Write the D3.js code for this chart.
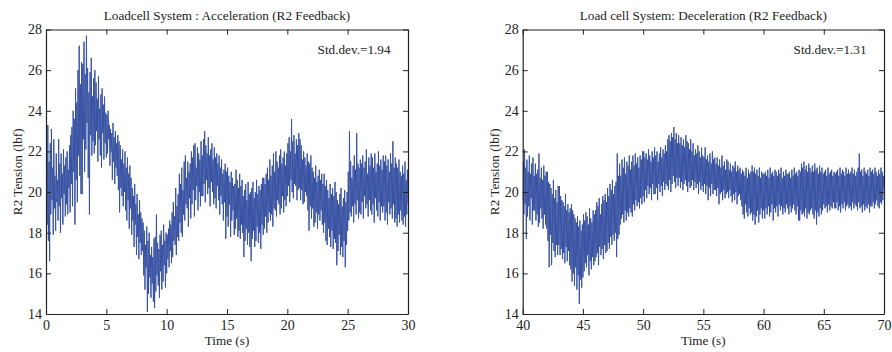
<!DOCTYPE html>
<html>
<head>
<meta charset="utf-8">
<script src="https://cdn.jsdelivr.net/npm/d3@7/dist/d3.min.js"></script>
<style>
  html, body { margin: 0; padding: 0; background: #fff; }
  svg { display: block; }
  text { font-family: "Liberation Serif", "Times New Roman", Times, serif; fill: #222; }
</style>
</head>
<body>
<svg id="chart" width="892" height="352"></svg>
<script>
// Load-cell tension, R2 feedback, sampled every 0.05 s
const sampleStep = 0.05;

const accTitle = "Loadcell System : Acceleration (R2 Feedback)";
const accStart = 0;
const accStd = "Std.dev.=1.94";
// one row per second
const accTension = [
  19.8, 22.9, 18.4, 23.3, 17.6, 21.5, 16.6, 22.4, 18.9, 23.1, 19.6, 21.2, 17.9, 22.6, 19.2, 20.8, 18.1, 21.9, 19.5, 20.6,
  18.6, 22.6, 19.3, 21.4, 18.0, 21.9, 19.7, 20.9, 18.4, 22.1, 19.9, 21.3, 18.8, 21.7, 19.4, 22.0, 18.9, 21.1, 20.2, 22.3,
  19.0, 22.8, 20.4, 23.2, 19.3, 24.0, 21.0, 23.6, 18.4, 25.1, 20.6, 24.4, 19.5, 26.0, 21.8, 27.2, 20.8, 25.3, 19.9, 26.4,
  19.9, 26.3, 22.6, 27.4, 21.0, 25.8, 22.1, 27.7, 23.4, 26.1, 20.7, 24.9, 18.9, 25.9, 22.8, 26.6, 21.8, 24.7, 22.5, 25.6,
  21.9, 26.0, 22.3, 25.4, 23.0, 24.6, 21.5, 25.7, 22.6, 24.1, 21.8, 24.8, 21.2, 25.1, 22.9, 24.3, 21.6, 24.7, 22.4, 23.9,
  21.7, 23.8, 21.9, 24.0, 22.6, 23.3, 21.3, 23.1, 22.0, 22.9, 20.6, 23.4, 21.5, 22.7, 20.4, 23.0, 21.2, 22.4, 20.8, 22.8,
  20.1, 22.5, 19.0, 22.3, 20.2, 21.6, 19.8, 22.1, 19.3, 21.4, 20.0, 22.0, 19.1, 21.2, 18.6, 21.7, 19.6, 20.9, 18.2, 21.3,
  19.2, 20.7, 17.9, 20.2, 18.6, 19.8, 17.3, 20.4, 18.4, 19.4, 16.9, 19.9, 17.8, 18.9, 16.7, 19.6, 17.5, 19.0, 16.9, 18.7,
  17.1, 18.5, 15.9, 18.1, 15.2, 17.4, 16.3, 18.3, 14.1, 17.6, 15.0, 18.0, 15.8, 16.9, 14.8, 17.3, 15.5, 16.8, 14.6, 17.7,
  14.3, 17.8, 15.1, 18.9, 15.9, 17.5, 15.4, 17.2, 14.8, 17.9, 16.1, 18.1, 15.2, 17.4, 15.6, 18.4, 16.4, 17.6, 15.3, 18.0,
  16.0, 17.9, 16.7, 18.2, 16.3, 18.6, 17.1, 18.4, 16.5, 19.0, 16.8, 19.5, 17.6, 18.8, 17.4, 20.2, 16.9, 19.3, 17.8, 19.9,
  17.6, 20.9, 18.5, 20.4, 18.0, 21.2, 17.8, 20.1, 18.9, 21.5, 18.6, 21.8, 19.4, 20.7, 19.2, 21.5, 18.3, 21.0, 19.7, 21.4,
  18.7, 22.0, 19.4, 21.7, 20.1, 22.3, 18.8, 22.4, 19.6, 21.2, 20.3, 22.2, 19.1, 21.9, 20.0, 21.6, 19.3, 22.5, 19.8, 21.8,
  19.8, 22.6, 20.4, 23.0, 19.5, 22.3, 20.6, 21.9, 19.9, 22.7, 20.2, 21.8, 19.3, 22.1, 20.5, 22.4, 20.0, 21.6, 19.4, 22.2,
  19.7, 21.7, 19.2, 21.9, 20.3, 21.4, 19.6, 21.8, 18.9, 21.2, 19.8, 21.6, 19.4, 20.9, 18.6, 21.1, 19.5, 21.4, 17.7, 21.0,
  18.8, 21.2, 18.3, 20.8, 19.4, 20.5, 17.8, 21.0, 18.6, 20.7, 19.1, 20.3, 17.9, 20.4, 18.2, 21.1, 18.7, 20.6, 17.8, 20.2,
  18.1, 20.9, 17.7, 20.3, 18.4, 20.6, 18.0, 19.8, 16.8, 20.1, 17.6, 20.4, 18.2, 19.6, 17.4, 20.5, 18.0, 19.9, 17.3, 20.0,
  16.6, 20.2, 17.7, 20.5, 18.1, 19.7, 17.3, 20.0, 17.6, 20.6, 18.3, 19.9, 17.5, 20.3, 18.0, 20.1, 17.2, 20.4, 18.4, 20.7,
  17.9, 20.7, 18.2, 20.4, 18.8, 20.9, 18.0, 21.2, 18.5, 20.6, 19.0, 21.6, 18.6, 20.8, 18.9, 21.3, 18.3, 21.9, 19.2, 21.0,
  19.1, 22.0, 18.8, 21.5, 19.6, 21.2, 19.4, 21.8, 18.9, 22.1, 19.2, 21.4, 19.8, 21.7, 19.0, 22.0, 19.6, 21.3, 19.3, 21.9,
  19.8, 22.4, 20.3, 22.7, 19.5, 22.0, 20.6, 23.6, 20.0, 22.5, 19.7, 22.8, 20.4, 21.9, 20.3, 22.6, 19.6, 22.3, 20.1, 22.9,
  20.2, 22.6, 19.6, 22.3, 20.1, 21.6, 19.4, 22.0, 19.5, 21.7, 20.0, 21.3, 19.8, 21.9, 19.1, 21.5, 18.1, 21.4, 19.3, 21.8,
  18.7, 21.2, 19.2, 21.0, 18.3, 20.7, 18.5, 21.3, 19.0, 20.5, 18.2, 20.8, 18.9, 21.1, 18.6, 20.6, 19.1, 20.9, 18.4, 20.4,
  18.0, 20.9, 18.5, 20.3, 17.6, 20.6, 17.4, 20.1, 18.2, 19.7, 17.8, 20.4, 17.3, 19.9, 18.1, 20.2, 17.2, 19.8, 17.7, 20.5,
  17.5, 20.0, 16.4, 19.6, 17.1, 19.4, 17.9, 19.9, 16.9, 20.2, 17.3, 19.3, 16.8, 19.7, 17.6, 20.1, 16.3, 19.5, 17.4, 20.0,
  18.1, 21.0, 18.6, 23.0, 19.0, 21.5, 18.8, 20.7, 19.3, 21.3, 18.5, 21.8, 19.4, 21.1, 18.9, 22.9, 19.6, 21.4, 18.7, 21.2,
  19.0, 21.6, 18.9, 21.4, 19.5, 21.8, 18.7, 21.2, 19.8, 21.5, 19.2, 22.1, 19.4, 20.9, 18.8, 21.7, 19.6, 21.3, 19.1, 21.9,
  18.9, 21.7, 19.4, 21.2, 18.5, 21.9, 19.7, 21.0, 19.1, 21.4, 18.8, 22.0, 19.5, 21.3, 18.6, 21.6, 19.3, 21.1, 19.0, 21.8,
  19.3, 21.5, 18.6, 21.8, 19.0, 21.3, 18.4, 21.6, 19.5, 21.0, 18.9, 21.9, 19.2, 21.4, 18.7, 22.5, 19.4, 21.2, 18.5, 21.7,
  18.7, 21.4, 18.3, 21.2, 18.9, 21.6, 18.5, 21.0, 19.1, 20.8, 18.6, 21.3, 18.4, 20.9, 18.8, 21.5, 18.3, 20.6, 18.9, 21.1,
  19.4
];
const accTicks = [0, 5, 10, 15, 20, 25, 30];

const decTitle = "Load cell System: Deceleration (R2 Feedback)";
const decStart = 40;
const decStd = "Std.dev.=1.31";
// one row per second
const decTension = [
  19.6, 21.5, 18.9, 22.1, 19.4, 21.2, 17.7, 21.6, 18.8, 21.0, 19.3, 21.8, 18.6, 20.9, 19.7, 21.4, 18.4, 21.7, 19.1, 20.8,
  19.1, 21.4, 18.6, 20.9, 18.9, 21.1, 18.3, 21.9, 18.5, 20.7, 19.2, 21.2, 18.7, 20.6, 18.2, 21.3, 18.9, 20.8, 18.4, 21.0,
  18.2, 21.0, 17.6, 20.5, 16.3, 20.4, 17.9, 20.2, 16.4, 19.9, 17.5, 20.6, 17.1, 19.7, 16.8, 20.1, 17.4, 19.5, 16.9, 20.3,
  17.4, 20.3, 16.9, 19.8, 17.2, 19.6, 16.7, 19.5, 17.0, 19.3, 16.5, 19.9, 17.3, 19.1, 16.6, 19.4, 17.1, 19.0, 16.4, 19.2,
  16.2, 19.4, 15.6, 19.1, 16.0, 18.9, 15.4, 18.7, 16.3, 18.5, 15.2, 18.8, 15.9, 18.3, 14.5, 18.6, 15.7, 18.1, 15.3, 18.4,
  15.8, 18.9, 16.1, 18.6, 16.5, 19.0, 16.3, 18.8, 16.9, 18.4, 15.9, 19.2, 16.6, 18.7, 16.2, 18.5, 16.8, 19.1, 16.4, 18.9,
  16.6, 19.1, 16.8, 19.5, 17.0, 19.3, 16.4, 19.7, 17.3, 18.9, 16.9, 19.4, 17.2, 19.8, 16.7, 19.6, 17.4, 19.9, 17.0, 19.5,
  17.1, 20.2, 17.5, 19.8, 17.2, 20.4, 17.8, 20.1, 17.4, 20.6, 17.9, 19.9, 17.6, 20.3, 18.0, 20.5, 16.8, 21.9, 17.7, 20.8,
  17.9, 21.4, 18.4, 20.8, 18.7, 21.6, 18.9, 21.2, 18.5, 21.7, 19.1, 20.9, 18.6, 21.5, 19.0, 21.3, 18.8, 21.8, 19.2, 21.1,
  19.0, 21.5, 18.8, 21.8, 19.4, 21.3, 19.1, 21.9, 19.6, 21.4, 19.3, 21.7, 19.5, 21.2, 19.2, 21.8, 19.7, 21.6, 19.4, 22.0,
  19.8, 22.0, 19.5, 21.7, 20.1, 21.9, 19.7, 21.6, 20.3, 22.1, 19.9, 21.8, 20.2, 21.5, 19.6, 22.0, 20.4, 21.7, 19.9, 22.2,
  19.9, 21.8, 20.2, 22.0, 19.6, 21.5, 20.4, 21.9, 20.0, 22.2, 20.3, 21.7, 19.8, 22.1, 20.5, 21.9, 20.1, 22.3, 20.4, 22.0,
  20.3, 22.6, 20.1, 22.8, 20.6, 22.5, 20.0, 22.9, 20.4, 22.7, 20.8, 23.2, 20.5, 22.6, 20.2, 22.9, 20.7, 22.4, 20.3, 22.8,
  20.7, 22.4, 20.2, 22.7, 20.5, 22.3, 20.1, 22.6, 20.4, 22.2, 20.6, 22.8, 20.3, 22.5, 20.0, 22.4, 20.5, 22.1, 20.2, 22.6,
  20.3, 22.0, 20.6, 22.4, 20.1, 21.8, 20.5, 22.1, 20.2, 21.9, 20.4, 22.3, 19.9, 22.0, 20.5, 21.7, 20.1, 22.2, 20.3, 21.8,
  20.0, 21.7, 20.4, 22.2, 19.9, 21.6, 20.3, 21.8, 19.6, 21.5, 20.2, 21.9, 19.8, 21.4, 20.4, 22.0, 19.9, 21.6, 20.1, 21.7,
  20.1, 21.4, 19.8, 21.7, 20.2, 21.3, 19.4, 21.6, 19.9, 21.2, 20.0, 21.8, 19.6, 21.3, 20.1, 21.5, 19.7, 21.1, 19.9, 21.6,
  20.0, 21.5, 19.7, 21.1, 20.1, 21.4, 19.8, 21.0, 19.5, 21.3, 19.9, 21.2, 19.6, 21.5, 20.0, 21.0, 19.4, 21.3, 19.8, 21.1,
  19.9, 21.2, 19.6, 20.9, 19.3, 21.1, 18.9, 21.0, 18.7, 20.8, 19.4, 21.2, 19.0, 20.7, 18.8, 21.1, 19.2, 20.9, 18.9, 21.0,
  19.0, 21.3, 18.6, 21.0, 18.9, 21.2, 18.4, 20.9, 18.8, 21.1, 19.1, 20.8, 18.5, 21.2, 18.9, 20.7, 19.2, 21.0, 18.7, 20.9,
  19.1, 20.9, 18.7, 21.0, 19.2, 20.8, 18.9, 21.1, 19.3, 20.7, 18.8, 21.2, 19.0, 20.9, 19.4, 21.0, 18.6, 20.8, 19.2, 21.1,
  19.0, 21.0, 19.3, 20.8, 18.8, 21.1, 19.4, 20.9, 19.1, 21.2, 19.3, 20.7, 18.9, 21.0, 19.2, 20.8, 19.0, 21.1, 19.4, 20.9,
  19.2, 20.9, 18.9, 21.0, 19.3, 20.7, 19.0, 21.1, 19.2, 20.8, 19.4, 21.2, 19.1, 20.9, 18.9, 21.0, 19.3, 20.8, 18.6, 21.1,
  18.6, 21.0, 19.1, 21.4, 18.9, 21.2, 19.0, 21.5, 18.8, 21.1, 19.2, 21.3, 18.7, 21.0, 19.0, 21.4, 18.9, 21.2, 19.1, 21.0,
  19.2, 21.3, 18.9, 21.0, 18.7, 21.4, 19.1, 21.1, 18.4, 21.2, 19.0, 20.9, 18.8, 21.3, 19.2, 21.0, 18.9, 21.2, 19.1, 20.9,
  19.4, 21.0, 19.2, 21.1, 19.3, 20.8, 19.0, 21.2, 19.4, 20.9, 19.1, 21.0, 19.3, 21.1, 19.2, 20.8, 19.5, 21.0, 19.2, 20.9,
  19.2, 21.0, 19.5, 21.1, 19.1, 20.8, 19.3, 21.2, 19.0, 20.9, 19.4, 21.1, 19.2, 21.0, 19.5, 20.8, 19.1, 21.2, 19.3, 20.9,
  19.4, 21.1, 19.2, 20.9, 19.3, 21.0, 19.1, 21.2, 19.5, 20.9, 19.2, 21.1, 19.4, 20.8, 19.3, 21.0, 19.1, 21.2, 19.5, 21.9,
  19.2, 21.0, 19.3, 21.1, 19.0, 20.8, 19.4, 21.2, 19.1, 21.0, 19.3, 20.9, 19.2, 21.1, 19.4, 20.8, 19.0, 21.2, 19.3, 21.0,
  19.3, 21.1, 19.5, 20.9, 19.2, 21.2, 19.4, 21.0, 19.6, 20.8, 19.3, 21.1, 19.2, 20.9, 19.5, 21.2, 19.4, 21.0, 19.6, 20.8,
  20.1
];
const decTicks = [40, 45, 50, 55, 60, 65, 70];

const tensionTicks = [14, 16, 18, 20, 22, 24, 26, 28];
const xLabel = "Time (s)";
const yLabel = "R2 Tension (lbf)";

const svg = d3.select("#chart");
const lineColor = "#3852a3";
const axisColor = "#222";
const serif = "'Liberation Serif', 'Times New Roman', Times, serif";

const panels = [
  { title: accTitle, start: accStart, values: accTension, ticks: accTicks, std: accStd, left: 46, right: 408, ylab: 22 },
  { title: decTitle, start: decStart, values: decTension, ticks: decTicks, std: decStd, left: 522.7, right: 884, ylab: 499 }
];
const plotTop = 29.5, plotBottom = 314;

panels.forEach(p => {
  const x = d3.scaleLinear().domain([p.ticks[0], p.ticks[p.ticks.length - 1]]).range([p.left, p.right]);
  const y = d3.scaleLinear().domain([14, 28]).range([plotBottom, plotTop]);
  const g = svg.append("g");

  const data = p.values.map((v, i) => ({ t: p.start + i * sampleStep, v }));

  // signal trace, clipped to the plot box
  const clipId = "clip" + p.start;
  svg.append("clipPath").attr("id", clipId)
    .append("rect").attr("x", p.left).attr("y", plotTop)
    .attr("width", p.right - p.left).attr("height", plotBottom - plotTop);

  g.append("path")
    .datum(data)
    .attr("clip-path", `url(#${clipId})`)
    .attr("fill", "none")
    .attr("stroke", lineColor)
    .attr("stroke-width", 1)
    .attr("d", d3.line().x(d => x(d.t)).y(d => y(d.v)));

  // axes with inward ticks on all four sides
  const styleAxis = sel => {
    sel.attr("font-family", serif);
    sel.selectAll(".domain").attr("stroke", axisColor).attr("stroke-width", 1.2);
    sel.selectAll(".tick line").attr("stroke", axisColor).attr("stroke-width", 1);
    sel.selectAll(".tick text").attr("font-size", 14).attr("fill", "#222");
  };

  g.append("g").attr("transform", `translate(0,${plotBottom})`)
    .call(d3.axisBottom(x).tickValues(p.ticks).tickSizeInner(-5).tickSizeOuter(0).tickPadding(6))
    .call(styleAxis);
  g.append("g").attr("transform", `translate(0,${plotTop})`)
    .call(d3.axisTop(x).tickValues(p.ticks).tickSizeInner(-5).tickSizeOuter(0).tickFormat(""))
    .call(styleAxis);
  g.append("g").attr("transform", `translate(${p.left},0)`)
    .call(d3.axisLeft(y).tickValues(tensionTicks).tickSizeInner(-5).tickSizeOuter(0).tickPadding(4))
    .call(styleAxis);
  g.append("g").attr("transform", `translate(${p.right},0)`)
    .call(d3.axisRight(y).tickValues(tensionTicks).tickSizeInner(-5).tickSizeOuter(0).tickFormat(""))
    .call(styleAxis);

  // titles and labels
  const label = (txt) => g.append("text").attr("font-family", serif).attr("font-size", 13.2).text(txt);
  label(p.title).attr("x", (p.left + p.right) / 2).attr("y", 19.5).attr("text-anchor", "middle");
  label(xLabel).attr("x", (p.left + p.right) / 2).attr("y", 345).attr("text-anchor", "middle");
  label(yLabel).attr("transform", `translate(${p.ylab},${(plotTop + plotBottom) / 2}) rotate(-90)`)
    .attr("text-anchor", "middle");
  label(p.std).attr("x", p.right - 17.5).attr("y", 54).attr("text-anchor", "end");
});
</script>
</body>
</html>
